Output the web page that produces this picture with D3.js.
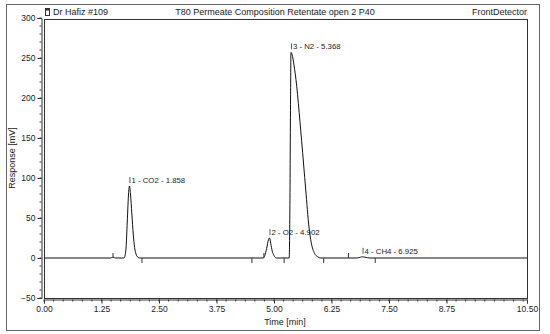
<!DOCTYPE html>
<html>
<head>
<meta charset="utf-8">
<script src="https://cdn.jsdelivr.net/npm/d3@7"></script>
<style>
  html, body { margin: 0; padding: 0; background: #fff; }
  svg { display: block; }
  text { font-family: "Liberation Sans", Arial, sans-serif; fill: #222; }
</style>
</head>
<body>
<svg id="chart" width="550" height="334"></svg>
<script>
// ---- Data ----
const headerLeft = "Dr Hafiz #109";
const headerTitle = "T80 Permeate Composition Retentate open 2 P40";
const headerRight = "FrontDetector";

const xTickValues = [0, 1.25, 2.5, 3.75, 5.0, 6.25, 7.5, 8.75, 10.5];
const yTickValues = [-50, 0, 50, 100, 150, 200, 250, 300];

// chromatogram trace (time in min, response in mV)
const traceTime = [0, 1.45, 1.49, 1.51, 1.55, 1.74, 1.78, 1.81, 1.84, 1.858, 1.88, 1.91, 1.94, 1.97, 2.0, 2.04, 2.08,
  4.76, 4.80, 4.84, 4.88, 4.902, 4.93, 4.96, 5.0, 5.05,
  5.33, 5.345, 5.36, 5.368, 5.46, 5.60, 5.69, 5.76, 5.81, 5.88, 5.95, 6.02,
  6.80, 6.88, 6.925, 6.98, 7.08, 10.5];
const traceResponse = [0, 0, 0.8, 0.8, 0, 0, 10, 45, 82, 90, 80, 55, 30, 13, 5, 1, 0,
  0, 3, 12, 23, 25, 18, 9, 3, 0,
  0, 60, 200, 257, 231, 147, 85, 39, 19, 6, 1.5, 0,
  0, 1, 1.5, 1, 0, 0];

// peak annotations
const peakNames = ["1 - CO2 - 1.858", "2 - O2 - 4.902", "3 - N2 - 5.368", "4 - CH4 - 6.925"];
const peakTimes = [1.858, 4.902, 5.368, 6.925];
const peakHeights = [90, 25, 257, 1.5];

// integration markers (time, direction: 1 = up, -1 = down)
const markerTimes = [1.50, 2.13, 4.52, 4.78, 5.22, 6.08, 6.62, 7.20];
const markerDirs  = [1, -1, -1, 1, -1, -1, 1, -1];

// ---- Layout ----
const svg = d3.select("#chart");
const box = { left: 44, right: 527, top: 19, bottom: 298 };

const x = d3.scaleLinear().domain([0, 10.5]).range([box.left, box.right]);
const y = d3.scaleLinear().domain([-50, 300]).range([298, 18]);

// outer frame
svg.append("rect").attr("x", 6.5).attr("y", 4.5).attr("width", 533).attr("height", 326)
  .attr("fill", "none").attr("stroke", "#666").attr("stroke-width", 1);

// plot box
svg.append("rect").attr("x", box.left + 0.5).attr("y", box.top + 0.5)
  .attr("width", box.right - box.left).attr("height", box.bottom - box.top)
  .attr("fill", "none").attr("stroke", "#333").attr("stroke-width", 1);

// header
svg.append("text").attr("x", 53).attr("y", 15).attr("font-size", 9).text(headerLeft);
svg.append("text").attr("x", 275).attr("y", 15).attr("font-size", 9).attr("text-anchor", "middle").text(headerTitle);
svg.append("text").attr("x", 527).attr("y", 15).attr("font-size", 9).attr("text-anchor", "end").text(headerRight);
// small document icon
const icon = svg.append("g").attr("transform", "translate(45,8)");
icon.append("rect").attr("x", 0.5).attr("y", 0.5).attr("width", 4).attr("height", 7).attr("fill", "#fff").attr("stroke", "#333");
icon.append("rect").attr("x", 0.5).attr("y", 0.5).attr("width", 4).attr("height", 2).attr("fill", "#333");

// y axis
const yMinor = d3.range(-50, 301, 10);
const yAxis = d3.axisLeft(y).tickValues(yTickValues).tickSize(4).tickPadding(2).tickFormat(d => d < 0 ? "\u221250" : d);
const gy = svg.append("g").attr("transform", "translate(41.5,0)").call(yAxis);
gy.append("g").selectAll("line").data(yMinor).join("line")
  .attr("x1", 0).attr("x2", -2).attr("y1", d => y(d)).attr("y2", d => y(d)).attr("stroke", "#333");
gy.select(".domain").attr("stroke", "#333");
gy.selectAll(".tick line").attr("stroke", "#333");
gy.selectAll(".tick text").attr("font-size", 8.5).attr("font-family", "Liberation Sans, Arial, sans-serif").attr("fill", "#222");

// x axis
const xMinor = d3.range(0, 63).map(i => i * 1.25 / 6).filter(v => v <= 10.5);
const xAxis = d3.axisBottom(x).tickValues(xTickValues).tickSize(4).tickPadding(2).tickFormat(d3.format(".2f"));
const gx = svg.append("g").attr("transform", "translate(0,299.5)").call(xAxis);
gx.append("g").selectAll("line").data(xMinor).join("line")
  .attr("x1", d => x(d)).attr("x2", d => x(d)).attr("y1", 0).attr("y2", 2).attr("stroke", "#333");
gx.select(".domain").attr("stroke", "#333");
gx.selectAll(".tick line").attr("stroke", "#333");
gx.selectAll(".tick text").attr("font-size", 8.5).attr("font-family", "Liberation Sans, Arial, sans-serif").attr("fill", "#222");

// axis titles
svg.append("text").attr("x", 285).attr("y", 325).attr("font-size", 9).attr("text-anchor", "middle").text("Time [min]");
svg.append("text").attr("transform", "translate(15,158) rotate(-90)").attr("font-size", 9)
  .attr("text-anchor", "middle").text("Response [mV]");

// trace
const pts = traceTime.map((t, i) => [t, traceResponse[i]]);
const line = d3.line().x(d => x(d[0])).y(d => y(d[1])).curve(d3.curveMonotoneX);
svg.append("path").datum(pts).attr("d", line).attr("fill", "none").attr("stroke", "#111").attr("stroke-width", 1);

// integration markers
svg.append("g").selectAll("line").data(markerTimes).join("line")
  .attr("x1", d => x(d)).attr("x2", d => x(d))
  .attr("y1", y(0))
  .attr("y2", (d, i) => y(0) - markerDirs[i] * 5)
  .attr("stroke", "#333").attr("stroke-width", 1);

// peak labels
const lab = svg.append("g");
peakNames.forEach((name, i) => {
  const px = x(peakTimes[i]), py = y(peakHeights[i]);
  lab.append("line").attr("x1", px + 0.5).attr("x2", px + 0.5).attr("y1", py - 9).attr("y2", py - 3)
    .attr("stroke", "#333").attr("stroke-width", 0.8);
  lab.append("text").attr("x", px + 2).attr("y", py - 3).attr("font-size", 7.8).text(name);
});
</script>
</body>
</html>
